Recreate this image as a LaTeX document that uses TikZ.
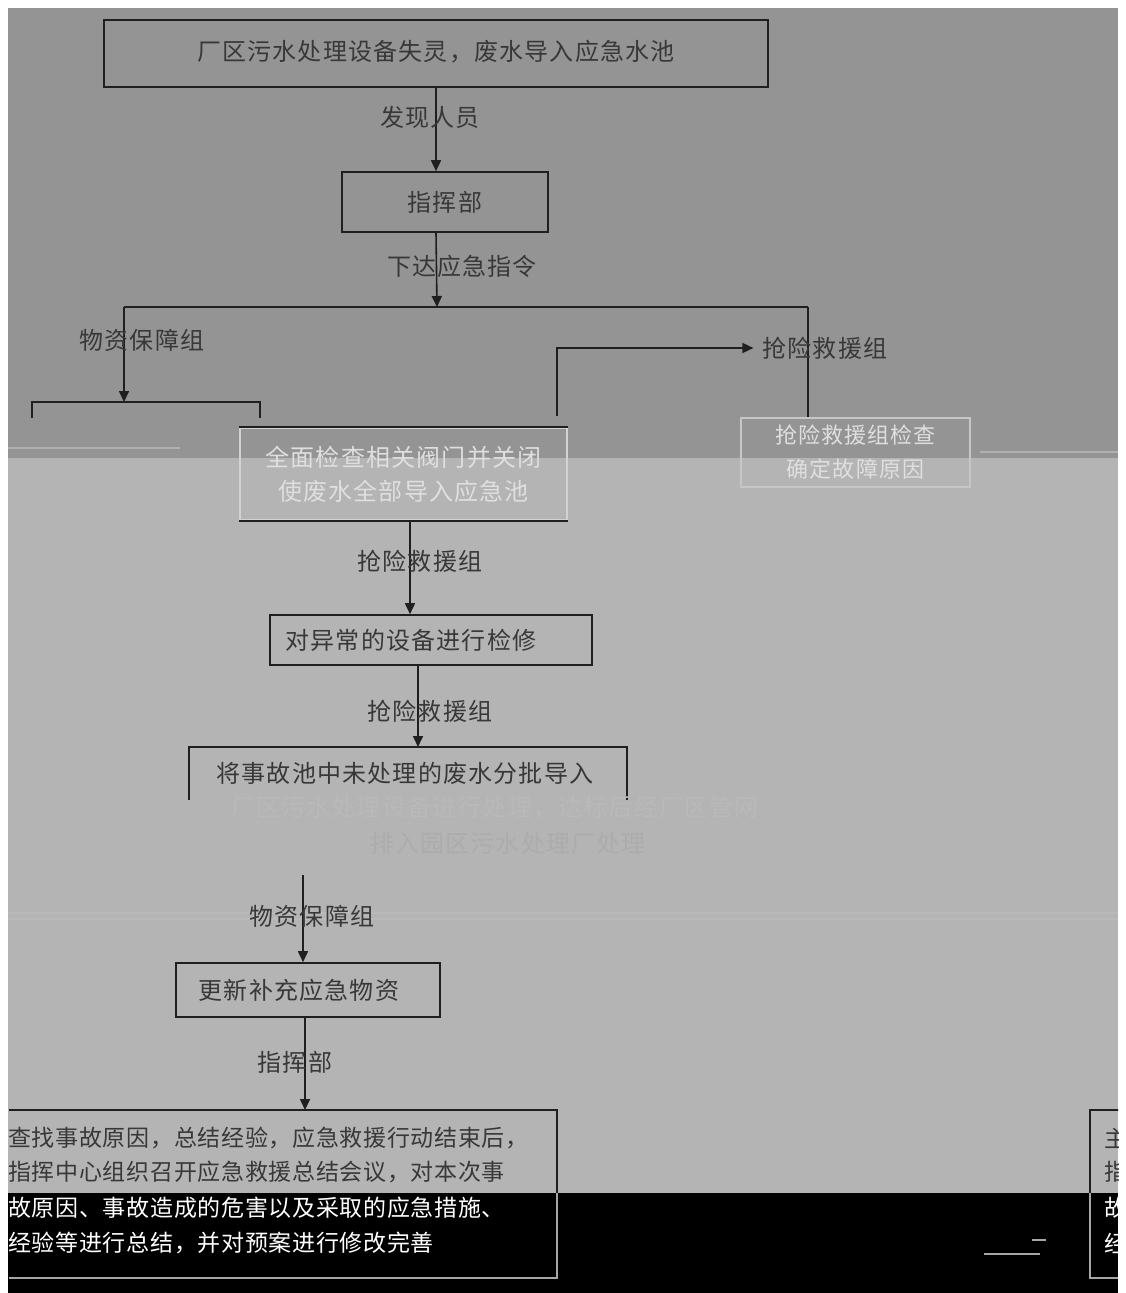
\documentclass[tikz,border=0pt]{standalone}
\usepackage{fontspec}
\newfontfamily\cjk[LetterSpace=5]{Noto Sans CJK SC}
\newfontfamily\cjkb[LetterSpace=3]{Noto Sans CJK SC}
\usetikzlibrary{arrows.meta}
\definecolor{bgdark}{gray}{0.58}
\definecolor{bglight}{gray}{0.706}
\definecolor{inkc}{gray}{0.12}
\definecolor{txtc}{gray}{0.22}
\definecolor{ghost}{gray}{0.80}
\begin{document}
\begin{tikzpicture}[x=1pt,y=-1pt,
  box/.style={draw=inkc,line width=1.6pt,rectangle,inner sep=0pt,font=\cjk\fontsize{24}{34}\selectfont,text=txtc,align=center},
  lbl/.style={font=\cjk\fontsize{24}{28}\selectfont,text=txtc,inner sep=1pt},
  ghosttxt/.style={font=\cjk\fontsize{24}{28}\selectfont,text=ghost,inner sep=1pt},
  wtxt/.style={font=\cjkb\fontsize{23}{28}\selectfont,text=white,inner sep=0pt,anchor=west},
  btxt/.style={font=\cjkb\fontsize{23}{28}\selectfont,text=txtc,inner sep=0pt,anchor=west},
  arr/.style={draw=inkc,line width=1.6pt,-{Triangle[length=11pt,width=10pt]}},
  ln/.style={draw=inkc,line width=1.6pt},
  glitch/.style={draw=gray!55,line width=1.2pt}]
\useasboundingbox (0,0) rectangle (1125,1293);
\fill[white] (0,0) rectangle (1125,1293);
\fill[bgdark] (8,8) rectangle (1118,458);
\fill[bglight] (8,458) rectangle (1118,1193);
\fill[black] (8,1193) rectangle (1118,1293);
% glitch streaks
\draw[glitch,draw=gray!62] (8,448) -- (180,448);
\draw[glitch,draw=gray!62] (980,452) -- (1118,452);
\draw[glitch] (8,913) -- (1118,913);
\draw[glitch] (8,919) -- (1118,919);

% top box and command
\node[box,minimum width=664pt,minimum height=67pt] (top) at (436,53.5) {\raisebox{6pt}{厂区污水处理设备失灵，废水导入应急水池}};
\node[box,minimum width=206pt,minimum height=60pt] (cmd) at (445,202) {指挥部};
\draw[arr] (top.south) -- (top.south |- cmd.north);
\node[lbl] (l1) at (430,117) {发现人员};

% bus
\coordinate (busL) at (124,307);
\coordinate (busR) at (808,307);
\coordinate (busM) at (437,307);
\draw[arr] (top.south |- cmd.south) -- (busM);
\node[lbl] (l2) at (462,266) {下达应急指令};
\draw[ln] (busL) -- (busR);

% left (cut) box
\coordinate (lbA) at (32,418);
\coordinate (lbB) at (32,402);
\coordinate (lbC) at (260,402);
\coordinate (lbD) at (260,418);
\draw[ln] (lbA) -- (lbB) -- (lbC) -- (lbD);
\coordinate (lbtop) at (124,402);
\draw[arr] (busL) -- (lbtop);
\node[lbl] (l3) at (142,340) {物资保障组};

% right box
\node[box,draw=gray!45,minimum width=229pt,minimum height=69pt,font=\cjk\fontsize{22}{34}\selectfont,text=gray!25] (rb) at (855.5,452.5) {抢险救援组检查\\确定故障原因};
\draw[ln] (busR) -- (busR |- rb.north);

% middle box
\node[box,draw=gray!35,minimum width=327pt,minimum height=92pt,text=gray!25] (mb) at (403.5,474) {全面检查相关阀门并关闭\\使废水全部导入应急池};
\draw[ln] (mb.north west) -- (mb.north east);
\draw[ln] (mb.south west) -- (mb.south east);
\coordinate (m1) at (557,416);
\node[lbl] (lq) at (825,348) {抢险救援组};
\draw[arr] (m1) |- ([xshift=-8pt]lq.west);

% repair
\node[box,minimum width=322pt,minimum height=50pt] (rp) at (431,640) {对异常的设备进行检修\hspace*{40pt}};
\draw[arr] ([xshift=6.5pt]mb.south) -- ([xshift=6.5pt]mb.south |- rp.north);
\node[lbl] (l4) at (420,561) {抢险救援组};

% discharge box (cut)
\coordinate (dbA) at (189,800);
\coordinate (dbB) at (189,747);
\coordinate (dbC) at (627,747);
\coordinate (dbD) at (627,800);
\coordinate (dbtop) at (418,747);
\draw[ln] (dbA) -- (dbB) -- (dbC) -- (dbD);
\draw[arr] ([xshift=-13pt]rp.south) -- (dbtop);
\node[lbl] (l5) at (430,711) {抢险救援组};
\node[lbl] (db1) at (405,773) {将事故池中未处理的废水分批导入};
\node[ghosttxt,text=gray!55] (db2) at (495,808) {厂区污水处理设备进行处理，达标后经厂区管网};
\node[ghosttxt,text=gray!65] (db3) at (508,843) {排入园区污水处理厂处理};

% supplies
\coordinate (dbout) at (303,875);
\node[box,minimum width=264pt,minimum height=54pt] (sup) at (308,990) {更新补充应急物资\hspace*{18pt}};
\draw[arr] (dbout) -- (dbout |- sup.north);
\node[lbl] (l6) at (312,916) {物资保障组};

% summary box
\coordinate (bbTL) at (9,1110);
\coordinate (bbTR) at (557,1110);
\coordinate (bbMR) at (557,1193);
\coordinate (bbBR) at (557,1278);
\coordinate (bbBL) at (9,1278);
\coordinate (bbtop) at (305,1110);
\draw[arr] ([xshift=-3pt]sup.south) -- (bbtop);
\node[lbl] (l7) at (295,1062) {指挥部};
\draw[ln] (bbTL) -- (bbTR) -- (bbMR);
\draw[ln,draw=gray!70] (bbMR) -- (bbBR) -- (bbBL);
\begin{scope}
\clip (8,1100) rectangle (557,1290);
\node[btxt] (s1) at (8,1138) {查找事故原因，总结经验，应急救援行动结束后，};
\node[btxt] (s2) at (8,1172) {指挥中心组织召开应急救援总结会议，对本次事};
\node[wtxt] (s3) at (8,1208) {故原因、事故造成的危害以及采取的应急措施、};
\node[wtxt] (s4) at (8,1243) {经验等进行总结，并对预案进行修改完善};
\end{scope}

% right cut box
\begin{scope}
\clip (1085,1100) rectangle (1118,1290);
\fill[bglight] (1090,1110) rectangle (1118,1193);
\draw[ln] (1090,1193) -- (1090,1110) -- (1130,1110);
\draw[ln,draw=gray!70] (1090,1193) -- (1090,1278) -- (1130,1278);
\node[btxt] (r1) at (1104,1138) {主};
\node[btxt] (r2) at (1104,1172) {指};
\node[wtxt] (r3) at (1104,1208) {故};
\node[wtxt] (r4) at (1104,1243) {经};
\end{scope}
\draw[gray!70,line width=1.2pt] (984,1254) -- (1040,1254);
\draw[gray!70,line width=1.2pt] (1032,1240) -- (1046,1240);
\end{tikzpicture}
\end{document}
